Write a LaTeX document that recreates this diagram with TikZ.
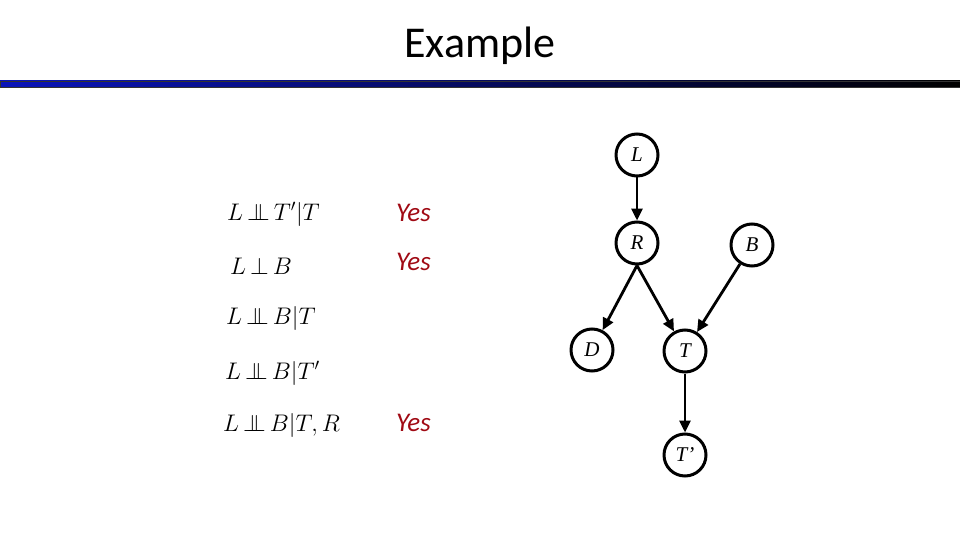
\RequirePackage{fix-cm}
\documentclass[tikz,border=0pt]{standalone}
\usepackage{fontspec}
\setmainfont{Carlito}
\newfontfamily\timesf{Liberation Serif}
\usetikzlibrary{arrows.meta}
\definecolor{yescol}{RGB}{160,10,20}
\definecolor{barblue}{RGB}{10,20,185}
\newcommand{\indep}{\mathrel{\mskip-2mu\perp\mkern-11mu\perp\mskip-2mu}}
\tikzset{
  bn/.style={circle, draw=black, line width=3pt, minimum size=42pt, inner sep=0pt,
    font=\fontsize{21}{25}\timesf\itshape},
  edge/.style={line width=2.8pt, -{Triangle[length=12pt,width=11pt]}},
  formula/.style={anchor=west, inner sep=0pt, font=\fontsize{24}{28}\selectfont},
  yes/.style={anchor=west, inner sep=0pt, text=yescol, font=\fontsize{27}{32}\selectfont\itshape}
}
\begin{document}
\begin{tikzpicture}[x=1pt,y=-1pt]
\useasboundingbox (0,0) rectangle (960,540);
\fill[white] (0,0) rectangle (960,540);
\node[font=\fontsize{44}{52}\selectfont] (title) at (480,46) {Example};
\shade[left color=barblue, right color=black, draw=black!80, line width=0.5pt] (0,81) rectangle (960,87);

\node[formula] (f1) at (227,214) {$L\indep T'|T$};
\node[formula] (f2) at (230,266) {$L\mathrel{\mskip-2mu\perp\mskip-2mu} B$};
\node[formula] (f3) at (226,318) {$L\indep B|T$};
\node[formula] (f4) at (225,373) {$L\indep B|T'$};
\node[formula] (f5) at (223,425) {$L\indep B|T,R$};

\node[yes] (y1) at (396,213) {Yes};
\node[yes] (y2) at (396,262) {Yes};
\node[yes] (y5) at (396,423) {Yes};

\node[bn] (L) at (637,155) {L};
\node[bn] (R) at (637,243) {R};
\node[bn] (B) at (752,245) {B};
\node[bn] (D) at (592,350) {D};
\node[bn] (T) at (685,351) {T};
\node[bn] (Tp) at (685,455) {T’};

\draw[edge] (L) -- (R);
\draw[edge] (R.south) -- (D);
\draw[edge] (R.south) -- (T);
\draw[edge] (B) -- (T);
\draw[edge] (T) -- (Tp);
\end{tikzpicture}
\end{document}
